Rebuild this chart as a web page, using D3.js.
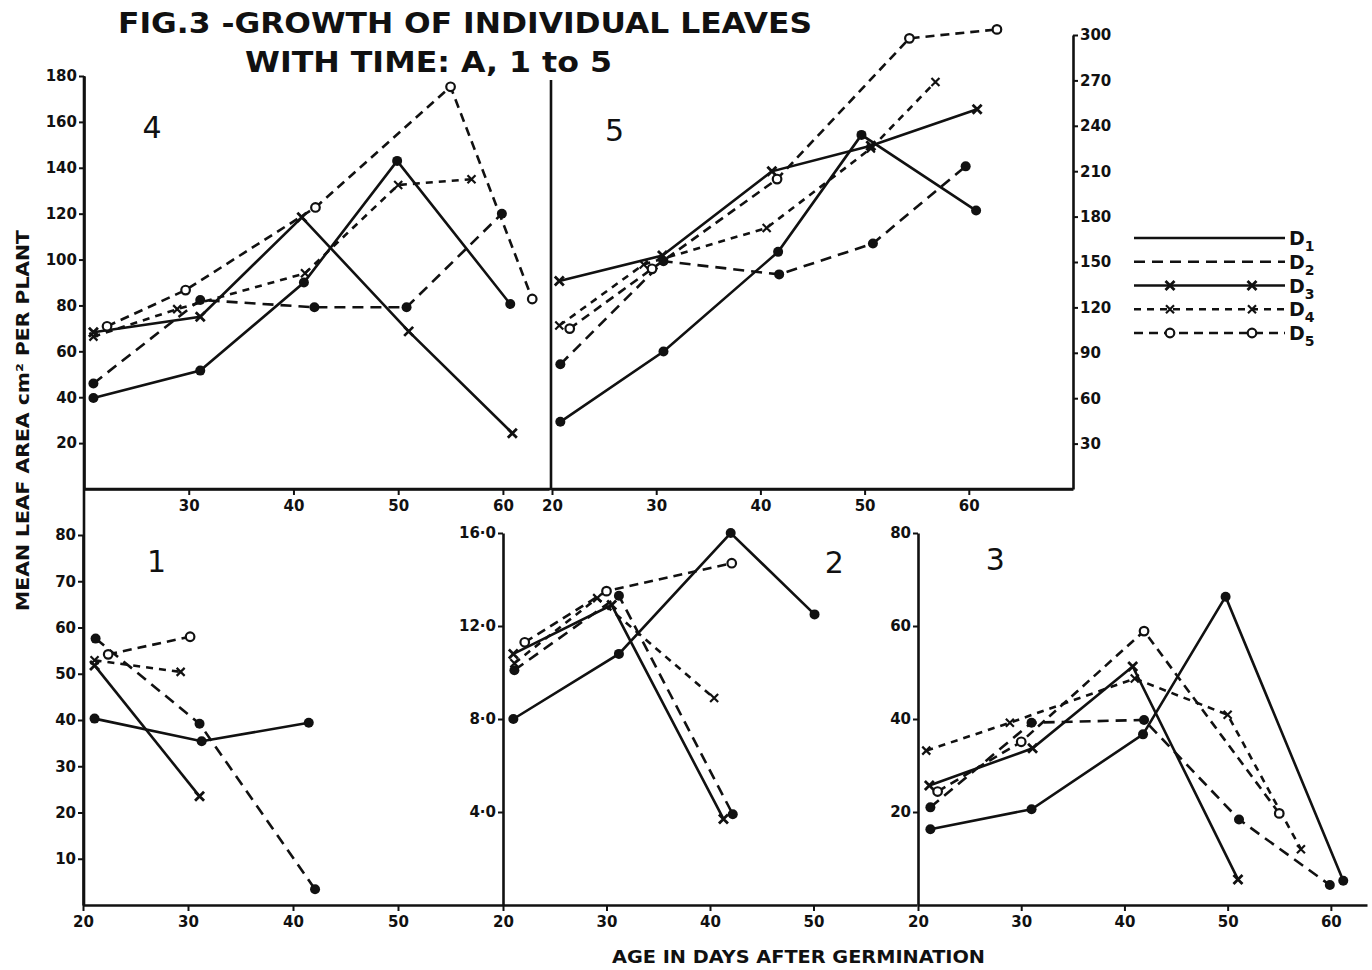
<!DOCTYPE html>
<html>
<head>
<meta charset="utf-8">
<script src="https://cdn.jsdelivr.net/npm/d3@7"></script>
<style>
  body { margin: 0; background: #fff; }
  text { font-family: "DejaVu Sans", sans-serif; fill: #111; }
</style>
</head>
<body>
<svg id="chart" width="1372" height="970"></svg>
<script>
// series order: D1, D2, D3, D4, D5  -> each point is [age in days, mean leaf area]
const seriesNames = ["D1", "D2", "D3", "D4", "D5"];

const leaf1 = [
  [[21.1, 40.3], [31.3, 35.4], [41.5, 39.4]],
  [[21.2, 57.6], [31.1, 39.2], [42.1, 3.4]],
  [[21.1, 51.8], [31.1, 23.5]],
  [[21.1, 52.9], [29.3, 50.4]],
  [[22.4, 54.2], [30.2, 58.0]]
];
const leaf2 = [
  [[21.0, 8.0], [31.2, 10.8], [42.0, 16.0], [50.1, 12.5]],
  [[21.1, 10.1], [31.2, 13.3], [42.2, 3.9]],
  [[21.0, 10.8], [30.5, 12.9], [41.3, 3.7]],
  [[21.1, 10.4], [29.1, 13.2], [40.4, 8.9]],
  [[22.1, 11.3], [30.0, 13.5], [42.1, 14.7]]
];
const leaf3 = [
  [[21.2, 16.3], [31.0, 20.6], [41.8, 36.7], [49.8, 66.3], [61.2, 5.2]],
  [[21.2, 21.0], [31.0, 39.2], [41.9, 39.8], [51.1, 18.4], [59.9, 4.3]],
  [[21.1, 25.7], [31.1, 33.7], [40.8, 51.3], [51.0, 5.5]],
  [[20.8, 33.2], [28.9, 39.2], [41.0, 48.7], [50.0, 40.9], [57.1, 12.0]],
  [[21.9, 24.4], [30.0, 35.1], [41.9, 58.9], [55.0, 19.7]]
];
const leaf4 = [
  [[20.9, 39.7], [31.1, 51.6], [41.0, 90.0], [49.9, 143], [60.7, 80.6]],
  [[20.9, 46], [31.1, 82.4], [42.0, 79.2], [50.8, 79.2], [59.9, 120]],
  [[20.9, 68.3], [31.1, 75.1], [40.8, 118.4], [51.0, 68.7], [60.9, 24.3]],
  [[20.9, 66.4], [28.9, 78.4], [41.1, 94], [50.0, 132.5], [57.0, 135]],
  [[22.2, 70.9], [29.7, 86.7], [42.1, 122.7], [55.0, 175.3], [62.8, 82.8]]
];
const leaf5 = [
  [[20.8, 44.4], [30.7, 90.8], [41.7, 156.7], [49.7, 234], [60.7, 184]],
  [[20.8, 82.4], [30.7, 150.5], [41.8, 141.8], [50.8, 162.2], [59.7, 213.2]],
  [[20.7, 137.4], [30.6, 154.3], [41.1, 209.9], [50.6, 226.8], [60.8, 251]],
  [[20.7, 108], [28.8, 148.4], [40.6, 172.5], [50.6, 225], [56.8, 269]],
  [[21.7, 106], [29.6, 145.5], [41.6, 204.8], [54.3, 297.8], [62.7, 303.7]]
];

// tick labels
const ticksY1 = [10, 20, 30, 40, 50, 60, 70, 80];
const ticksY2 = [4, 8, 12, 16];
const ticksY3 = [20, 40, 60, 80];
const ticksY4 = [20, 40, 60, 80, 100, 120, 140, 160, 180];
const ticksY5 = [30, 60, 90, 120, 150, 180, 210, 240, 270, 300];
const ticksX1 = [20, 30, 40, 50];
const ticksX2 = [20, 30, 40, 50];
const ticksX3 = [20, 30, 40, 50, 60];
const ticksX4 = [30, 40, 50, 60];
const ticksX5 = [20, 30, 40, 50, 60];

const svg = d3.select("#chart");

// line / marker look per series
const look = {
  D1: {dash: null, mark: "dot"},
  D2: {dash: "11,7", mark: "dot"},
  D3: {dash: null, mark: "bx"},
  D4: {dash: "7,6", mark: "x"},
  D5: {dash: "9,6", mark: "ring"}
};

function drawMark(g, kind, x, y){
    if(kind === "dot"){
        g.append("circle").attr("cx", x).attr("cy", y).attr("r", 5).attr("fill", "#111");
    } else if(kind === "ring"){
        g.append("circle").attr("cx", x).attr("cy", y).attr("r", 4.3)
            .attr("fill", "#fff").attr("stroke", "#111").attr("stroke-width", 2.2);
    } else {
        const s = kind === "bx" ? 4.5 : 4;
        g.append("path")
            .attr("d", `M${x-s},${y-s}L${x+s},${y+s}M${x-s},${y+s}L${x+s},${y-s}`)
            .attr("stroke", "#111").attr("stroke-width", kind === "bx" ? 2.8 : 2.2);
    }
}

const panels = [
  {name: "1", data: leaf1, x: [20, 60], xr: [83, 503], y: [0, 80], yr: [905, 535], xt: ticksX1, yt: ticksY1, side: "left", lab: [27, 72]},
  {name: "2", data: leaf2, x: [20, 60], xr: [503, 917], y: [0, 16], yr: [905, 533], xt: ticksX2, yt: ticksY2, side: "left", lab: [52, 14.3], fmt: d => d3.format(".1f")(d).replace(".", "\u00B7")},
  {name: "3", data: leaf3, x: [20, 63.5], xr: [918, 1367], y: [0, 80], yr: [905, 533], xt: ticksX3, yt: ticksY3, side: "left", lab: [27.5, 72]},
  {name: "4", data: leaf4, x: [20, 64.4], xr: [84, 549], y: [0, 180], yr: [489, 76], xt: ticksX4, yt: ticksY4, side: "left", lab: [26.5, 153]},
  {name: "5", data: leaf5, x: [20, 70], xr: [552, 1073], y: [0, 300], yr: [489, 35], xt: ticksX5, yt: ticksY5, side: "right", lab: [26, 230]}
];

const line = d3.line();

panels.forEach(p => {
    const x = d3.scaleLinear().domain(p.x).range(p.xr);
    const y = d3.scaleLinear().domain(p.y).range(p.yr);
    const g = svg.append("g").attr("class", "panel" + p.name);

    // x axis
    g.append("g")
        .attr("transform", `translate(0,${y(0)})`)
        .call(d3.axisBottom(x).tickValues(p.xt).tickSize(6).tickSizeOuter(0).tickPadding(5).tickFormat(d3.format("d")))
        .call(a => a.select(".domain").attr("stroke", "#111").attr("stroke-width", 2.6))
        .call(a => a.selectAll(".tick line").attr("stroke", "#111").attr("stroke-width", 2))
        .call(a => a.selectAll("text").attr("font-size", 15).attr("font-weight", "bold").attr("fill", "#111")
            .attr("font-family", "DejaVu Sans"));

    // y axis
    const ax = p.side === "right"
        ? d3.axisRight(y).tickValues(p.yt).tickSize(5).tickPadding(2)
        : d3.axisLeft(y).tickValues(p.yt).tickSize(5).tickPadding(2);
    ax.tickSizeOuter(0).tickFormat(p.fmt || d3.format("d"));
    g.append("g")
        .attr("transform", `translate(${p.side === "right" ? x.range()[1] : x.range()[0]},0)`)
        .call(ax)
        .call(a => a.select(".domain").attr("stroke", "#111").attr("stroke-width", 2.6))
        .call(a => a.selectAll(".tick line").attr("stroke", "#111").attr("stroke-width", 2))
        .call(a => a.selectAll("text").attr("font-size", 15).attr("font-weight", "bold").attr("fill", "#111")
            .attr("font-family", "DejaVu Sans"));

    // panel number
    g.append("text")
        .attr("x", x(p.lab[0])).attr("y", y(p.lab[1]))
        .attr("text-anchor", "middle")
        .attr("font-size", 30)
        .text(p.name);

    // series
    p.data.forEach((pts, i) => {
        const st = look[seriesNames[i]];
        g.append("path")
            .attr("d", line(pts.map(d => [x(d[0]), y(d[1])])))
            .attr("fill", "none")
            .attr("stroke", "#111")
            .attr("stroke-width", 2.6)
            .attr("stroke-dasharray", st.dash);
        pts.forEach(d => drawMark(g, st.mark, x(d[0]), y(d[1])));
    });
});

// frame lines joining the panels
const frame = [
  [84, 76, 84, 905],     // shared left edge of 4 and 1
  [551, 80, 551, 489],   // divider between 4 and 5
  [84, 489, 1073, 489]   // top row base line
];
svg.selectAll(".frame").data(frame).enter().append("line")
    .attr("x1", d => d[0]).attr("y1", d => d[1])
    .attr("x2", d => d[2]).attr("y2", d => d[3])
    .attr("stroke", "#111").attr("stroke-width", 2.6);

// title
svg.append("text")
    .attr("x", 118).attr("y", 33)
    .attr("font-size", 29).attr("font-weight", "bold").attr("font-family", "DejaVu Sans Condensed")
    .attr("textLength", 694).attr("lengthAdjust", "spacingAndGlyphs")
    .text("FIG.3  -GROWTH OF INDIVIDUAL LEAVES");
svg.append("text")
    .attr("x", 245).attr("y", 72)
    .attr("font-size", 29).attr("font-weight", "bold").attr("font-family", "DejaVu Sans Condensed")
    .attr("textLength", 367).attr("lengthAdjust", "spacingAndGlyphs")
    .text("WITH  TIME: A, 1 to 5");

// axis titles
svg.append("text")
    .attr("transform", "translate(29,611) rotate(-90)")
    .attr("font-size", 17).attr("font-weight", "bold")
    .attr("textLength", 381).attr("lengthAdjust", "spacingAndGlyphs")
    .text("MEAN LEAF AREA cm\u00B2 PER PLANT");
svg.append("text")
    .attr("x", 612).attr("y", 963)
    .attr("font-size", 17).attr("font-weight", "bold")
    .attr("textLength", 373).attr("lengthAdjust", "spacingAndGlyphs")
    .text("AGE  IN  DAYS  AFTER  GERMINATION");

// legend
const legY = d3.scalePoint().domain(seriesNames).range([238, 333]);
const leg = svg.append("g");
seriesNames.forEach(name => {
    const st = look[name];
    const yy = legY(name);
    leg.append("line")
        .attr("x1", 1134).attr("x2", 1285).attr("y1", yy).attr("y2", yy)
        .attr("stroke", "#111").attr("stroke-width", 2.6)
        .attr("stroke-dasharray", st.dash);
    if(name !== "D1" && name !== "D2"){
        drawMark(leg, st.mark, 1170, yy);
        drawMark(leg, st.mark, 1252, yy);
    }
    const t = leg.append("text")
        .attr("x", 1289).attr("y", yy + 7)
        .attr("font-size", 19).attr("font-weight", "bold");
    t.append("tspan").text("D");
    t.append("tspan").attr("dy", 6).attr("font-size", 14).text(name.slice(1));
});
</script>
</body>
</html>
